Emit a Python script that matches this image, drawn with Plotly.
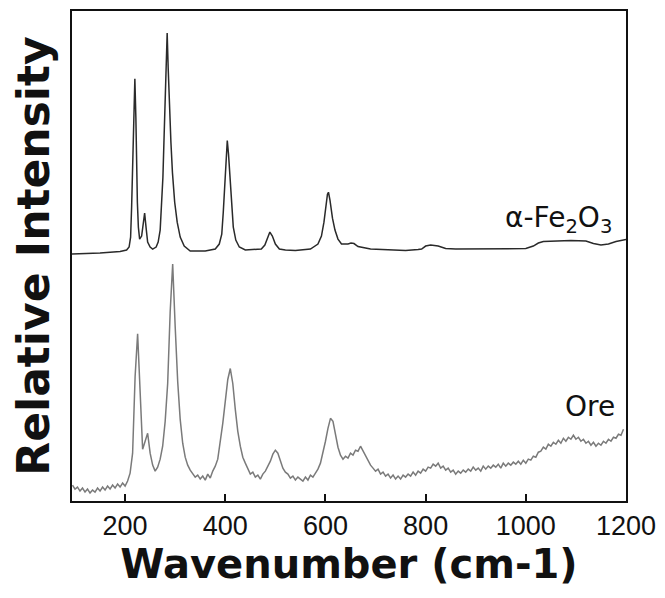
import plotly.graph_objects as go

# ---- data (intensities in arbitrary units, stacked as drawn) ----
fe2o3_wavenumber = [94, 150, 190, 203, 208, 211, 213, 215, 217, 219.5, 221.5, 223, 224.5, 226.5, 229,
                    233, 236, 239, 242, 245, 250, 255, 262, 266, 270, 273, 275.5, 277.5, 279.5, 281.5, 284,
                    286, 288.5, 291.5, 294.5, 299, 304, 310, 318, 330, 360, 380, 388, 393, 396, 399, 401.5,
                    404, 406.5, 409.5, 413, 416, 421, 428, 440, 460, 472, 479, 484, 489, 494, 500, 508, 520,
                    540, 570, 585, 592, 597, 601, 604, 606, 609, 614, 619, 625, 632, 645, 651, 657, 665, 690,
                    730, 760, 785, 792, 800, 810, 825, 840, 860, 900, 950, 1000, 1015, 1025, 1035, 1060, 1090,
                    1120, 1135, 1150, 1165, 1180, 1200]
fe2o3_intensity = [248, 249, 250.5, 252, 255, 265, 295, 345, 395, 424, 385, 335, 300, 275, 263,
                   266, 278, 289, 274, 260, 255, 253, 255, 260, 272, 295, 325, 360, 400, 440, 470,
                   435, 395, 360, 330, 300, 280, 265, 256, 251, 251, 253, 258, 268, 290, 320, 345,
                   362, 348, 325, 295, 275, 262, 255, 252, 252.5, 253, 257, 264, 270, 266, 258, 253, 252,
                   251.5, 253, 258, 266, 280, 298, 308, 310, 302, 284, 272, 263, 258, 258, 259, 258.5, 255.5, 253,
                   252, 251.5, 252.5, 253, 256, 257, 256, 253.5, 253, 253, 253, 253.5, 256, 259, 260.5, 261, 261.5,
                   261, 258.5, 257, 258, 260.5, 262.5]

ore_wavenumber = list(range(95, 1200, 5))
ore_intensity = [
    16, 12, 14, 10, 13, 9, 12, 8, 11, 9,
    13, 10, 14, 11, 15, 12, 16, 13, 17, 14,
    18, 15, 20, 28, 48, 125, 168, 100, 52, 60,
    68, 48, 36, 30, 34, 42, 55, 80, 118, 190,
    238, 175, 120, 82, 58, 44, 36, 31, 27, 24,
    26, 22, 25, 21, 27, 23, 30, 35, 42, 58,
    78, 100, 122, 133, 118, 92, 70, 55, 44, 38,
    32, 27, 29, 24, 26, 22, 27, 30, 35, 40,
    47, 51, 48, 40, 33, 29, 27, 23, 25, 21,
    24, 22, 20, 24, 21, 26, 24, 28, 32, 38,
    48, 60, 73, 83, 80, 66, 54, 46, 42, 45,
    43, 48, 46, 51, 50, 55, 50, 46, 40, 36,
    33, 30, 32, 27, 29, 25, 27, 23, 26, 22,
    25, 22, 26, 24, 27, 25, 29, 26, 30, 28,
    32, 30, 34, 33, 37, 35, 38, 33, 35, 31,
    33, 29, 31, 27, 30, 28, 31, 29, 32, 30,
    34, 31, 33, 30, 35, 32, 35, 33, 36, 34,
    37, 33, 38, 35, 38, 36, 39, 37, 40, 37,
    41, 38, 42, 41, 45, 44, 49, 50, 54, 52,
    57, 55, 59, 57, 61, 58, 63, 60, 64, 62,
    66, 62, 64, 60, 62, 58, 60, 56, 59, 55,
    58, 56, 60, 58, 62, 60, 64, 63, 67, 66,
    72,
]

x_tick_values = [200, 400, 600, 800, 1000, 1200]
x_tick_labels = ["200", "400", "600", "800", "1000", "1200"]
series_labels = ["α-Fe<sub>2</sub>O<sub>3</sub>", "Ore"]

fig = go.Figure()
fig.add_trace(go.Scatter(x=fe2o3_wavenumber, y=fe2o3_intensity, mode="lines",
                         line=dict(color="#2a2a2a", width=1.5), showlegend=False))
fig.add_trace(go.Scatter(x=ore_wavenumber, y=ore_intensity, mode="lines",
                         line=dict(color="#7a7a7a", width=1.5), showlegend=False))

fig.add_annotation(x=1176, y=283, xref="x", yref="y", text=series_labels[0], showarrow=False,
                   xanchor="right", yanchor="middle",
                   font=dict(family="DejaVu Sans", size=28, color="#111"))
fig.add_annotation(x=1182, y=95, xref="x", yref="y", text=series_labels[1], showarrow=False,
                   xanchor="right", yanchor="middle",
                   font=dict(family="DejaVu Sans", size=28, color="#111"))

# the page body adds an 8px margin, so the figure is sized and offset for it
fig.update_layout(
    width=657, height=590,
    margin=dict(l=64, r=39, t=1, b=97),
    paper_bgcolor="white", plot_bgcolor="white",
    xaxis=dict(
        range=[94, 1200], tickvals=x_tick_values, ticktext=x_tick_labels,
        ticks="inside", ticklen=7, tickwidth=2, tickcolor="#111",
        showline=True, linewidth=2, linecolor="#111", mirror=True,
        showgrid=False, zeroline=False,
        tickfont=dict(family="Liberation Sans", size=27, color="#111"),
        title=dict(text="<b>Wavenumber (cm-1)</b>", standoff=6,
                   font=dict(family="DejaVu Sans", size=40, color="#111")),
    ),
    yaxis=dict(
        range=[0, 492], showticklabels=False, ticks="",
        showline=True, linewidth=2, linecolor="#111", mirror=True,
        showgrid=False, zeroline=False,
        title=dict(text="<b>Relative Intensity</b>", standoff=8,
                   font=dict(family="DejaVu Sans", size=44, color="#111")),
    ),
)

fig.write_html("out.html")
